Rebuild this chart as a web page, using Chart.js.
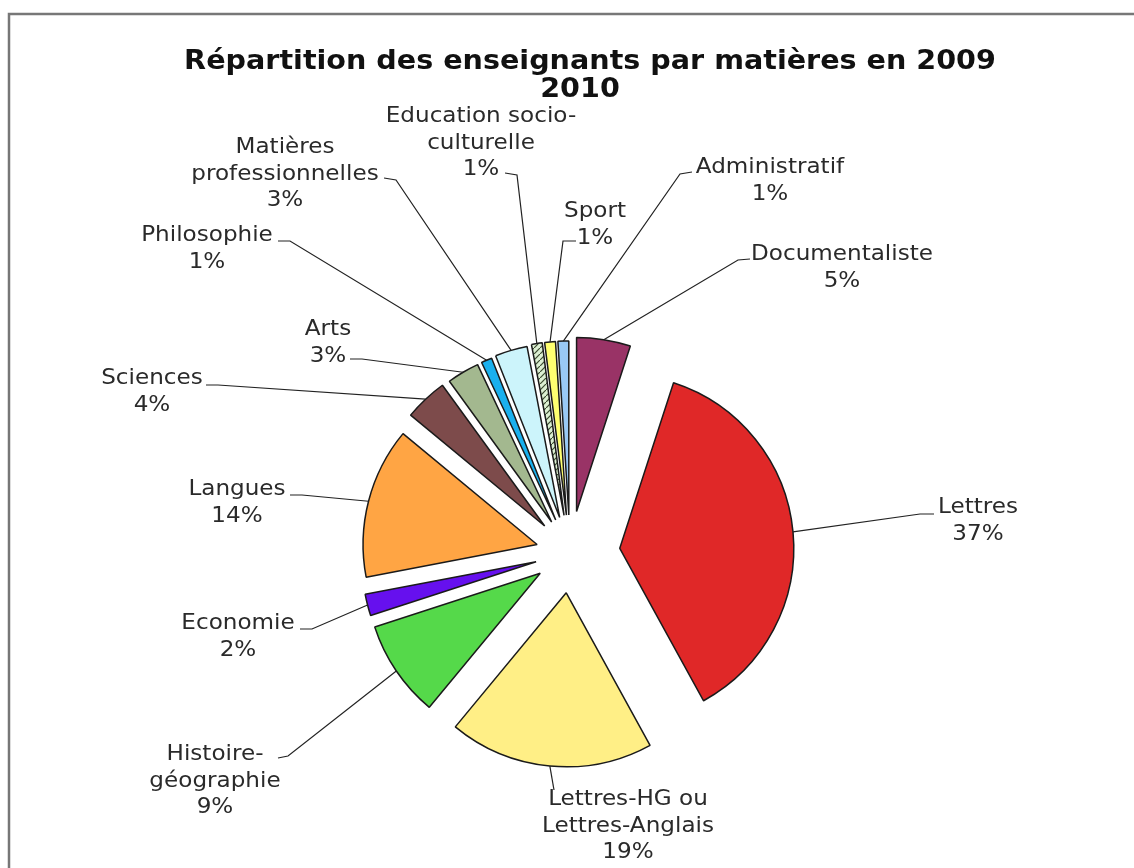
<!DOCTYPE html>
<html>
<head>
<meta charset="utf-8">
<title>Répartition des enseignants</title>
<script src="https://cdn.jsdelivr.net/npm/chart.js@4"></script>
<style>
    body { margin: 0; background: white; }
    #myChart { display: block; }
</style>
</head>
<body>
<canvas id="myChart" width="1134" height="868"></canvas>
<script>
const titleLines = ["Répartition des enseignants par matières en 2009", "2010"];

const matieres = [
    "Documentaliste",
    "Lettres",
    ["Lettres-HG ou", "Lettres-Anglais"],
    ["Histoire-", "géographie"],
    "Economie",
    "Langues",
    "Sciences",
    "Arts",
    "Philosophie",
    ["Matières", "professionnelles"],
    ["Education socio-", "culturelle"],
    "Sport",
    "Administratif"
];

const pourcentages = [5, 37, 19, 9, 2, 14, 4, 3, 1, 3, 1, 1, 1];

// how far (px) each slice is pulled away from the centre
const eclatement = [42, 50, 40, 36, 35, 34, 37, 36, 36, 37, 38, 38, 38];

// label placement: text centre x, first line y, end of leader near the text, elbow
const placement = [
    {x: 842, y: 255, ax: 750, ay: 259, ex: 738, ey: 260},
    {x: 978, y: 508, ax: 934, ay: 514, ex: 920, ey: 514},
    {x: 628, y: 800, ax: 554, ay: 790, ex: null, ey: null},
    {x: 215, y: 755, ax: 278, ay: 758, ex: 288, ey: 756},
    {x: 238, y: 624, ax: 300, ay: 629, ex: 312, ey: 629},
    {x: 237, y: 490, ax: 290, ay: 495, ex: 302, ey: 495},
    {x: 152, y: 379, ax: 206, ay: 385, ex: 218, ey: 385},
    {x: 328, y: 330, ax: 350, ay: 359, ex: 362, ey: 359},
    {x: 207, y: 236, ax: 278, ay: 241, ex: 290, ey: 241},
    {x: 285, y: 148, ax: 384, ay: 178, ex: 396, ey: 180},
    {x: 481, y: 117, ax: 505, ay: 173, ex: 517, ey: 175},
    {x: 595, y: 212, ax: 576, ay: 241, ex: 563, ey: 241},
    {x: 770, y: 168, ax: 692, ay: 172, ex: 680, ey: 174}
];

function hachures() {
    const c = document.createElement("canvas");
    c.width = 6;
    c.height = 6;
    const g = c.getContext("2d");
    g.fillStyle = "#dcefd2";
    g.fillRect(0, 0, 6, 6);
    g.strokeStyle = "#3b4a2f";
    g.lineWidth = 1.2;
    g.beginPath();
    g.moveTo(0, 6);
    g.lineTo(6, 0);
    g.stroke();
    return g.createPattern(c, "repeat");
}

const couleurs = [
    "#993366", "#e02828", "#ffef86", "#55d94a", "#6610ee", "#ffa544", "#7d4b4b",
    "#a3b88f", "#1ab0ee", "#ccf4fb", hachures(), "#ffff70", "#99c9f5"
];

function texteLarge(ctx, t, x, y) {
    // the source picture is a little wider than it is tall
    ctx.save();
    ctx.translate(x, y);
    ctx.scale(1.1, 1);
    ctx.fillText(t, 0, 0);
    ctx.restore();
}

const eclate = {
    id: "eclate",
    afterDatasetUpdate: (chart, args) => {
        const meta = args.meta;
        meta.data.forEach((arc, i) => {
            const mid = (arc.startAngle + arc.endAngle) / 2;
            arc.x += Math.cos(mid) * eclatement[i];
            arc.y += Math.sin(mid) * eclatement[i];
        });
    }
};

const etiquettes = {
    id: "etiquettes",
    beforeDraw: (chart) => {
        const {ctx} = chart;
        ctx.save();
        ctx.fillStyle = "white";
        ctx.fillRect(0, 0, chart.width, chart.height);
        ctx.strokeStyle = "#777";
        ctx.lineWidth = 2.5;
        ctx.strokeRect(9, 14, chart.width + 20, chart.height + 20);
        ctx.restore();
    },
    afterDatasetsDraw: (chart) => {
        const {ctx} = chart;
        const meta = chart.getDatasetMeta(0);
        ctx.save();

        ctx.fillStyle = "#111";
        ctx.font = "bold 26px 'DejaVu Sans'";
        ctx.textAlign = "center";
        ctx.textBaseline = "middle";
        texteLarge(ctx, titleLines[0], 590, 62);
        texteLarge(ctx, titleLines[1], 580, 90);

        meta.data.forEach((arc, i) => {
            const mid = (arc.startAngle + arc.endAngle) / 2;
            const px = arc.x + Math.cos(mid) * arc.outerRadius;
            const py = arc.y + Math.sin(mid) * arc.outerRadius;
            const pos = placement[i];

            ctx.strokeStyle = "#222";
            ctx.lineWidth = 1.2;
            ctx.beginPath();
            ctx.moveTo(pos.ax, pos.ay);
            if (pos.ex !== null) {
                ctx.lineTo(pos.ex, pos.ey);
            }
            ctx.lineTo(px, py);
            ctx.stroke();

            const name = chart.data.labels[i];
            const lines = (Array.isArray(name) ? name : [name]).concat([pourcentages[i] + "%"]);
            ctx.fillStyle = "#2a2a2a";
            ctx.font = "21px 'DejaVu Sans'";
            lines.forEach((t, k) => {
                texteLarge(ctx, t, pos.x, pos.y + k * 26.5);
            });
        });
        ctx.restore();
    }
};

new Chart("myChart", {
    type: "pie",
    data: {
        labels: matieres,
        datasets: [{
            data: pourcentages,
            backgroundColor: couleurs,
            borderColor: "#1a1a1a",
            borderWidth: 1.5,
            radius: 174
        }]
    },
    options: {
        responsive: false,
        animation: false,
        events: [],
        devicePixelRatio: 1,
        layout: {
            padding: {left: 20, right: 14, top: 240, bottom: 2}
        },
        plugins: {
            legend: {display: false},
            title: {display: false},
            tooltip: {enabled: false}
        }
    },
    plugins: [eclate, etiquettes]
});
</script>
</body>
</html>
